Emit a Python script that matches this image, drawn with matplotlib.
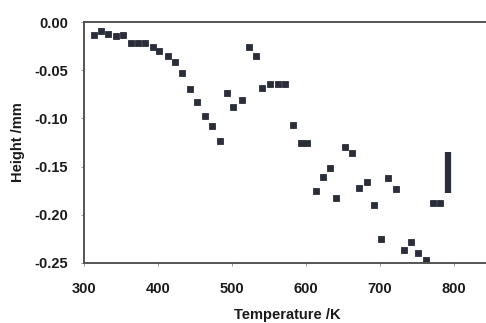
import numpy as np
import matplotlib.pyplot as plt

# temperature (K) and height change (mm)
temperature = [313, 323, 333, 343, 353, 364, 373, 382, 393, 402, 413, 423,
               432, 443, 453, 463, 473, 484, 493, 502, 513, 523, 532, 541,
               552, 562, 572, 582, 593, 602, 614, 623, 632, 641, 653, 662,
               672, 682, 692, 702, 711, 722, 732, 742, 752, 762, 771, 781]
height = [-0.013, -0.009, -0.012, -0.015, -0.013, -0.022, -0.022, -0.022,
          -0.026, -0.030, -0.035, -0.042, -0.053, -0.070, -0.083, -0.097,
          -0.108, -0.123, -0.074, -0.088, -0.081, -0.026, -0.035, -0.068,
          -0.064, -0.064, -0.064, -0.107, -0.125, -0.125, -0.175, -0.161,
          -0.151, -0.183, -0.130, -0.136, -0.172, -0.166, -0.190, -0.225,
          -0.162, -0.173, -0.237, -0.228, -0.240, -0.247, -0.188, -0.188]

# vertical bar at the right end
bar_temperature = 792
bar_range = [-0.1345, -0.1775]

plt.rcParams['font.family'] = ['Liberation Sans', 'DejaVu Sans']

fig = plt.figure(figsize=(4.86, 3.23), dpi=100)
ax = fig.add_axes([84 / 486, 60 / 323, 407 / 486, 241 / 323])

dark = '#2a2e3a'
ax.plot(temperature, height, 's', color=dark, markersize=4.3,
        markeredgewidth=0.6, markeredgecolor=dark)
ax.plot([bar_temperature, bar_temperature], bar_range, color=dark,
        linewidth=4.5, solid_capstyle='butt')

ax.set_xlim(300, 850)
ax.set_ylim(-0.25, 0.0)
ax.set_xticks([300, 400, 500, 600, 700, 800])
ax.set_yticks([0.0, -0.05, -0.10, -0.15, -0.20, -0.25])
ax.set_yticklabels(['0.00', '-0.05', '-0.10', '-0.15', '-0.20', '-0.25'])

for side in ['left', 'bottom', 'top']:
    ax.spines[side].set_color('#555555')
    ax.spines[side].set_linewidth(1.4)
ax.spines['right'].set_visible(False)

ax.tick_params(direction='out', length=2.5, width=0.7, color='#999999',
               labelsize=10.5, labelcolor='#1a1a1a', pad=9)
ax.tick_params(axis='x', pad=11)
for lab in ax.get_xticklabels() + ax.get_yticklabels():
    lab.set_fontweight('bold')

ax.set_xlabel('Temperature /K', fontsize=10.5, fontweight='bold',
              color='#1a1a1a', labelpad=9)
ax.set_ylabel('Height /mm', fontsize=10.5, fontweight='bold',
              color='#1a1a1a', labelpad=7)

fig.savefig('out.png', dpi=100)
